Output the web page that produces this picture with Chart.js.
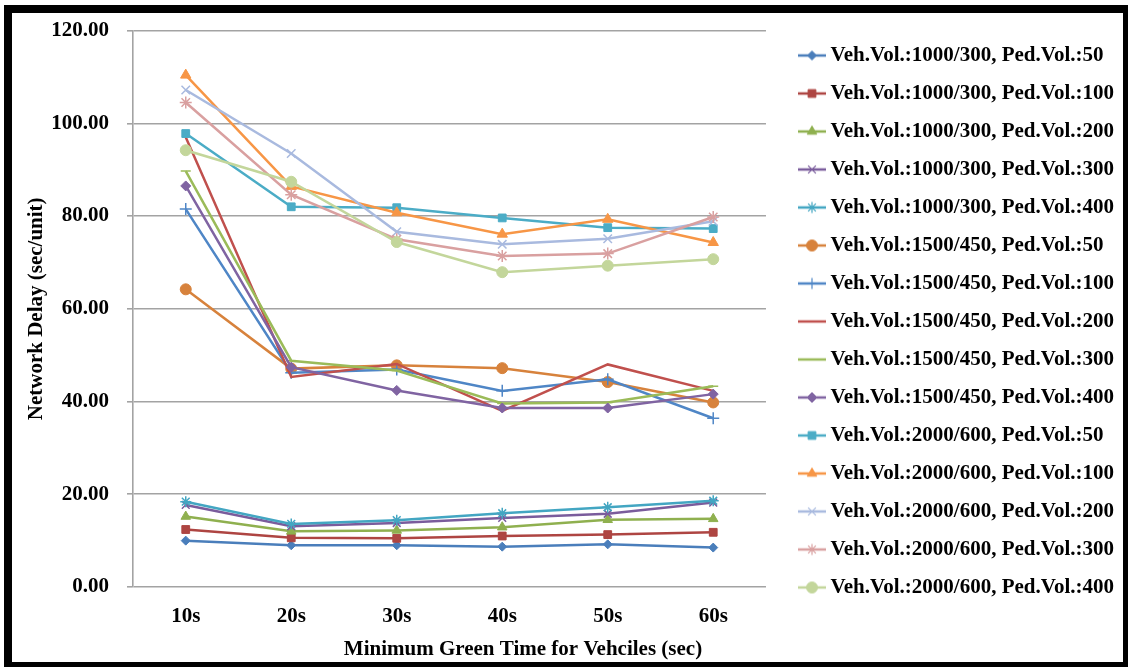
<!DOCTYPE html>
<html>
<head>
<meta charset="utf-8">
<script src="https://cdn.jsdelivr.net/npm/chart.js@4.4.1/dist/chart.umd.min.js"></script>
<style>
  html, body { margin: 0; padding: 0; background: #fff; }
  #wrap { position: relative; width: 1128px; height: 667px; overflow: hidden; }
  #c { position: absolute; left: 0; top: 0; }
  #frame { position: absolute; left: 4px; top: 5px; width: 1124px; height: 662px; box-sizing: border-box;
           border-style: solid; border-color: #000; border-width: 8px 5px 5px 8px; pointer-events: none; }
</style>
</head>
<body>
<div id="wrap">
  <canvas id="c" width="1128" height="667"></canvas>
  <div id="frame"></div>
</div>
<script>
const categories = ['10s', '20s', '30s', '40s', '50s', '60s'];
const yTicks = [0, 20, 40, 60, 80, 100, 120];
const xTitle = 'Minimum Green Time for Vehciles (sec)';
const yTitle = 'Network Delay (sec/unit)';

const seriesNames = [
  'Veh.Vol.:1000/300, Ped.Vol.:50',
  'Veh.Vol.:1000/300, Ped.Vol.:100',
  'Veh.Vol.:1000/300, Ped.Vol.:200',
  'Veh.Vol.:1000/300, Ped.Vol.:300',
  'Veh.Vol.:1000/300, Ped.Vol.:400',
  'Veh.Vol.:1500/450, Ped.Vol.:50',
  'Veh.Vol.:1500/450, Ped.Vol.:100',
  'Veh.Vol.:1500/450, Ped.Vol.:200',
  'Veh.Vol.:1500/450, Ped.Vol.:300',
  'Veh.Vol.:1500/450, Ped.Vol.:400',
  'Veh.Vol.:2000/600, Ped.Vol.:50',
  'Veh.Vol.:2000/600, Ped.Vol.:100',
  'Veh.Vol.:2000/600, Ped.Vol.:200',
  'Veh.Vol.:2000/600, Ped.Vol.:300',
  'Veh.Vol.:2000/600, Ped.Vol.:400'
];

const v1000_50  = [10.0, 9.0, 9.0, 8.7, 9.2, 8.5];
const v1000_100 = [12.4, 10.6, 10.5, 11.0, 11.3, 11.8];
const v1000_200 = [15.2, 12.0, 12.2, 12.9, 14.5, 14.7];
const v1000_300 = [17.7, 13.1, 13.8, 14.9, 15.8, 18.2];
const v1000_400 = [18.4, 13.6, 14.4, 15.9, 17.2, 18.6];
const v1500_50  = [64.2, 47.1, 47.8, 47.2, 44.2, 39.8];
const v1500_100 = [81.5, 46.2, 46.9, 42.3, 44.8, 36.4];
const v1500_200 = [97.0, 45.3, 48.1, 38.0, 48.0, 42.3];
const v1500_300 = [89.7, 48.8, 46.7, 39.6, 39.8, 43.3];
const v1500_400 = [86.5, 47.4, 42.4, 38.6, 38.6, 41.6];
const v2000_50  = [97.8, 82.0, 81.8, 79.6, 77.5, 77.3];
const v2000_100 = [110.4, 86.4, 80.7, 76.1, 79.3, 74.3];
const v2000_200 = [107.2, 93.5, 76.6, 73.9, 75.1, 78.9];
const v2000_300 = [104.5, 84.6, 75.0, 71.4, 71.9, 79.8];
const v2000_400 = [94.2, 87.4, 74.4, 67.9, 69.3, 70.7];

const seriesValues = [v1000_50, v1000_100, v1000_200, v1000_300, v1000_400,
  v1500_50, v1500_100, v1500_200, v1500_300, v1500_400,
  v2000_50, v2000_100, v2000_200, v2000_300, v2000_400];

const seriesColors = ['#4A7EBB', '#AE4542', '#8FB04F', '#7A5C9C', '#43A6C2',
  '#D7823C', '#4F86C6', '#C0504D', '#9BBB59', '#8064A2',
  '#4BACC6', '#F79646', '#A9BADF', '#D9A0A0', '#C3D69B'];
const seriesMarkers = ['rectRot', 'rect', 'triangle', 'crossRot', 'star',
  'circle', 'cross', 'none', 'line', 'rectRot',
  'rect', 'triangle', 'crossRot', 'star', 'circle'];
const markerSizes = [4.5, 5.5, 5.5, 5.5, 5.5, 5.5, 6, 0, 5, 5, 5.5, 6, 6, 6, 5.5];

const FONT = '"Liberation Serif", "Times New Roman", serif';

const datasets = seriesNames.map((name, i) => {
  const m = seriesMarkers[i];
  const isOpen = (m === 'crossRot' || m === 'star' || m === 'cross' || m === 'line');
  return {
    label: name,
    data: seriesValues[i],
    borderColor: seriesColors[i],
    backgroundColor: seriesColors[i],
    borderWidth: 2.5,
    pointStyle: m === 'none' ? 'circle' : m,
    pointRadius: m === 'none' ? 0 : markerSizes[i],
    pointBorderWidth: isOpen ? 1.5 : 1,
    pointBackgroundColor: seriesColors[i],
    pointBorderColor: seriesColors[i],
    tension: 0,
    fill: false,
    order: seriesNames.length - 1 - i
  };
});

function legendImage(i) {
  const cv = document.createElement('canvas');
  cv.width = 28; cv.height = 16;
  const ctx = cv.getContext('2d');
  ctx.strokeStyle = seriesColors[i];
  ctx.fillStyle = seriesColors[i];
  ctx.lineWidth = 2.5;
  ctx.beginPath(); ctx.moveTo(0, 8); ctx.lineTo(28, 8); ctx.stroke();
  const m = seriesMarkers[i];
  if (m !== 'none' && m !== 'line') {
    const open = (m === 'crossRot' || m === 'star' || m === 'cross');
    ctx.lineWidth = open ? 1.2 : 1;
    Chart.helpers.drawPoint(ctx, {pointStyle: m, radius: Math.min(markerSizes[i], 5.5), rotation: 0, borderWidth: ctx.lineWidth}, 14, 8);
  }
  return cv;
}

const legendShift = {
  id: 'legendShift',
  afterLayout(chart) {
    const lg = chart.legend;
    if (!lg) return;
    const w = lg.width;
    lg.left = 787; lg.right = 787 + w;
  }
};

const xTitlePlugin = {
  id: 'xTitlePlugin',
  afterDraw(chart) {
    const ctx = chart.ctx;
    ctx.save();
    ctx.font = 'bold 21px ' + FONT;
    ctx.fillStyle = '#000';
    ctx.textAlign = 'center';
    ctx.textBaseline = 'middle';
    ctx.fillText(xTitle, 523, 650);
    ctx.restore();
  }
};

new Chart(document.getElementById('c'), {
  type: 'line',
  data: { labels: categories, datasets },
  options: {
    responsive: false,
    animation: false,
    devicePixelRatio: 1,
    layout: { padding: { top: 28, left: 20, right: 25, bottom: 0 } },
    plugins: {
      title: { display: false },
      tooltip: { enabled: false },
      legend: {
        position: 'right',
        align: 'start',
        maxWidth: 361,
        labels: {
          usePointStyle: true,
          pointStyleWidth: 16,
          padding: 17,
          color: '#000',
          font: { family: FONT, size: 21, weight: 'bold' },
          generateLabels(chart) {
            return chart.data.datasets.map((ds, i) => ({
              text: ds.label,
              pointStyle: legendImage(i),
              fillStyle: ds.borderColor,
              strokeStyle: ds.borderColor,
              lineWidth: 0,
              hidden: false,
              datasetIndex: i,
              fontColor: '#000'
            }));
          }
        }
      }
    },
    scales: {
      x: {
        type: 'category',
        offset: true,
        grid: { display: false, drawTicks: false },
        border: { display: false },
        ticks: { color: '#000', padding: 17, font: { family: FONT, size: 21, weight: 'bold' } },
        afterFit(s) { s.height = 80; }
      },
      y: {
        min: 0, max: 120,
        afterBuildTicks(s) { s.ticks = yTicks.map(v => ({ value: v })); },
        grid: { color: '#A3A3A3', lineWidth: 1.6, tickLength: 6, drawTicks: true },
        border: { display: true, color: '#A3A3A3', width: 1.6 },
        ticks: {
          color: '#000', padding: 18,
          font: { family: FONT, size: 21, weight: 'bold' },
          callback: v => Number(v).toFixed(2)
        },
        title: {
          display: true, text: yTitle, color: '#000',
          font: { family: FONT, size: 21, weight: 'bold' },
          padding: { top: 4, bottom: 0 }
        },
        afterFit(s) { s.width = 113; }
      }
    }
  },
  plugins: [legendShift, xTitlePlugin]
});
</script>
</body>
</html>
